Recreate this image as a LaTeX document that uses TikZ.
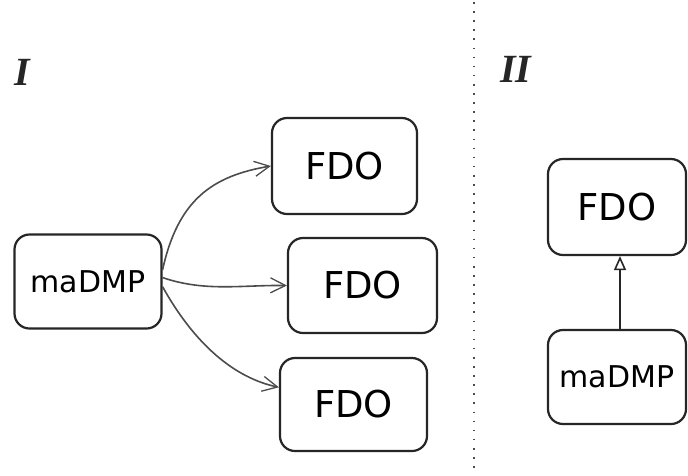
\documentclass[tikz,border=0pt]{standalone}
\usepackage{fontspec}
\setmainfont{DejaVu Sans}
\newfontfamily\labfont{Liberation Serif}
\usetikzlibrary{arrows.meta}
\begin{document}
\begin{tikzpicture}[x=1pt,y=-1pt,
  box/.style={draw=black!85, line width=2.2pt, rounded corners=15pt, inner sep=0pt},
  fdobox/.style={box, font=\fontsize{37}{40}\selectfont},
  dmpbox/.style={box, font=\fontsize{30}{33}\selectfont},
  conn/.style={draw=black!70, line width=1.6pt, -{Straight Barb[length=15pt,width=15pt,line width=1.3pt]}},
  inh/.style={draw=black!85, line width=2.4pt, -{Triangle[open,length=14pt,width=12pt,line width=1.6pt]}},
  lab/.style={font=\labfont\bfseries\itshape\fontsize{40}{42}\selectfont, text=black!85, inner sep=0pt},
  sep/.style={draw=black!70, line width=1.6pt, dash pattern=on 1.6pt off 7.5pt}]
\useasboundingbox (0,0) rectangle (688,475);
\fill[white] (0,0) rectangle (688,475);
% separator
\coordinate (st) at (474,2);
\coordinate (sb) at (474,475);
\draw[sep] (st) -- (sb);
% labels
\node[lab] (l1) at (22,72) {I};
\node[lab] (l2) at (516,69) {II};
% part I
\node[dmpbox, minimum width=147pt, minimum height=94pt] (m1) at (88,281.5) {maDMP};
\node[fdobox, minimum width=145pt, minimum height=96pt] (f1) at (344.5,166) {FDO};
\node[fdobox, minimum width=149pt, minimum height=95pt] (f2) at (362.5,285.5) {FDO};
\node[fdobox, minimum width=147pt, minimum height=93pt] (f3) at (353.5,404.5) {FDO};
\draw[conn] (m1.9) .. controls (178,200) and (212,176) .. (f1.west);
\draw[conn] (m1.3) .. controls (205,292) and (240,285) .. (f2.west);
\draw[conn] (m1.-4) .. controls (195,345) and (235,378) .. (f3.167);
% part II
\node[fdobox, minimum width=138pt, minimum height=96pt] (f4) at (617,207) {FDO};
\node[dmpbox, minimum width=138pt, minimum height=94pt] (m2) at (617,377) {maDMP};
\draw[inh] ([xshift=3pt]m2.north) -- ([xshift=3pt]f4.south);
\end{tikzpicture}
\end{document}
